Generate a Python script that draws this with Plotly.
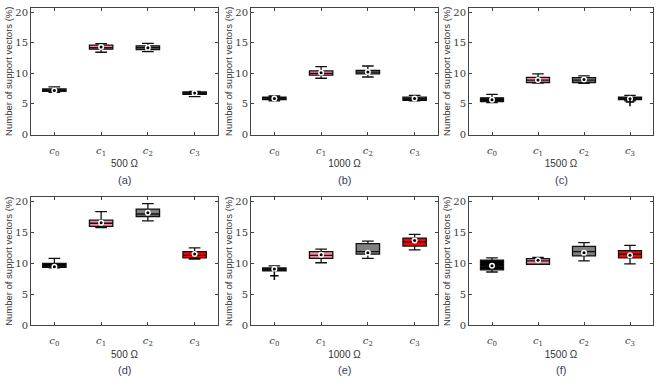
import plotly.graph_objects as go

categories = ["<i>c</i><sub>0</sub>", "<i>c</i><sub>1</sub>", "<i>c</i><sub>2</sub>", "<i>c</i><sub>3</sub>"]
box_colors = ["#000000", "#f28ba0", "#808080", "#ff0000"]
resistances = ["500 Ω", "1000 Ω", "1500 Ω", "500 Ω", "1000 Ω", "1500 Ω"]
panel_labels = ["(a)", "(b)", "(c)", "(d)", "(e)", "(f)"]

# per panel: lists over c0..c3
q1_a = [7.05, 13.95, 13.9, 6.55];  med_a = [7.25, 14.2, 14.2, 6.75];  q3_a = [7.45, 14.6, 14.5, 6.95]
lo_a = [6.9, 13.45, 13.55, 6.2];   hi_a = [7.8, 14.85, 14.9, 7.05];   mean_a = [7.2, 14.3, 14.2, 6.8]

q1_b = [5.7, 9.7, 9.9, 5.6];       med_b = [5.9, 10.0, 10.2, 5.85];  q3_b = [6.1, 10.4, 10.5, 6.1]
lo_b = [5.5, 9.2, 9.4, 5.5];       hi_b = [6.3, 11.1, 11.2, 6.4];     mean_b = [5.9, 10.1, 10.2, 5.9]

q1_c = [5.4, 8.5, 8.5, 5.7];       med_c = [5.75, 8.9, 8.9, 5.9];    q3_c = [6.0, 9.35, 9.3, 6.1]
lo_c = [5.2, 8.4, 8.35, 5.5];      hi_c = [6.55, 9.9, 9.6, 6.4];      mean_c = [5.7, 8.9, 9.0, 5.85]

q1_d = [9.35, 16.0, 17.6, 10.9];   med_d = [9.6, 16.5, 18.0, 11.3];  q3_d = [10.0, 17.0, 18.8, 11.9]
lo_d = [9.25, 15.8, 16.9, 10.7];   hi_d = [10.8, 18.4, 19.7, 12.5];   mean_d = [9.45, 16.6, 18.2, 11.5]

q1_e = [8.8, 10.8, 11.5, 12.8];    med_e = [9.0, 11.3, 11.9, 13.5];  q3_e = [9.25, 11.9, 13.2, 14.1]
lo_e = [8.8, 10.1, 10.8, 12.2];    hi_e = [9.6, 12.3, 13.6, 14.7];    mean_e = [9.1, 11.4, 11.7, 13.7]

q1_f = [8.95, 9.85, 11.2, 10.9];   med_f = [9.5, 10.4, 11.9, 11.5];  q3_f = [10.5, 10.75, 12.75, 12.05]
lo_f = [8.6, 9.85, 10.4, 9.9];     hi_f = [10.9, 10.95, 13.35, 12.9]; mean_f = [9.6, 10.5, 11.7, 11.3]

# outliers: (panel index, category index, value)
outlier_panel = [2, 4]
outlier_cat = [3, 0]
outlier_val = [5.3, 8.0]

panels = [
    (q1_a, med_a, q3_a, lo_a, hi_a, mean_a),
    (q1_b, med_b, q3_b, lo_b, hi_b, mean_b),
    (q1_c, med_c, q3_c, lo_c, hi_c, mean_c),
    (q1_d, med_d, q3_d, lo_d, hi_d, mean_d),
    (q1_e, med_e, q3_e, lo_e, hi_e, mean_e),
    (q1_f, med_f, q3_f, lo_f, hi_f, mean_f),
]

W, H = 665, 386
xpix = [(31, 218), (251, 438), (469, 653)]
ypix = [(7, 136), (200, 330)]

fig = go.Figure()
layout = dict(width=W, height=H, margin=dict(l=0, r=0, t=0, b=0),
              paper_bgcolor="white", plot_bgcolor="white", showlegend=False)
annotations = []
xs = [1, 2, 3, 4]

for p, (q1, med, q3, lo, hi, mean) in enumerate(panels):
    r, c = divmod(p, 3)
    n = p + 1
    xa = "x" if n == 1 else f"x{n}"
    ya = "y" if n == 1 else f"y{n}"
    for i in range(4):
        fig.add_trace(go.Box(
            x=[xs[i]], q1=[q1[i]], median=[med[i]], q3=[q3[i]],
            lowerfence=[lo[i]], upperfence=[hi[i]],
            width=0.5, whiskerwidth=0.5, fillcolor=box_colors[i],
            line=dict(color="#111111", width=1.3), boxpoints=False,
            xaxis=xa, yaxis=ya, hoverinfo="skip"))
    fig.add_trace(go.Scatter(x=xs, y=mean, mode="markers", xaxis=xa, yaxis=ya,
                             marker=dict(color="white", size=6, line=dict(width=0))))
    fig.add_trace(go.Scatter(x=xs, y=mean, mode="markers", xaxis=xa, yaxis=ya,
                             marker=dict(color="black", size=3, line=dict(width=0))))
    ox = [xs[outlier_cat[k]] for k in range(len(outlier_val)) if outlier_panel[k] == p]
    oy = [outlier_val[k] for k in range(len(outlier_val)) if outlier_panel[k] == p]
    if ox:
        fig.add_trace(go.Scatter(x=ox, y=oy, mode="markers", xaxis=xa, yaxis=ya,
                                 marker=dict(symbol="cross-thin", size=6,
                                             line=dict(color="black", width=1.5))))
    x0, x1 = xpix[c]
    y0, y1 = ypix[r]
    axis_common = dict(showline=True, linecolor="#444444", linewidth=1, mirror="ticks",
                       ticks="inside", ticklen=3, tickcolor="#444444", showgrid=False,
                       zeroline=False,
                       tickfont=dict(family="DejaVu Serif", size=10, color="#3a3a3a"))
    layout["xaxis" if n == 1 else f"xaxis{n}"] = dict(
        domain=[x0 / W, x1 / W], anchor=ya, range=[0.5, 4.5],
        tickvals=xs, ticktext=categories, ticklabelstandoff=6,
        title=dict(text=resistances[p], standoff=3,
                   font=dict(family="Liberation Sans", size=10, color="#333333")),
        **axis_common)
    layout["yaxis" if n == 1 else f"yaxis{n}"] = dict(
        domain=[1 - y1 / H, 1 - y0 / H], anchor=xa, range=[0, 20.7],
        tickvals=[0, 5, 10, 15, 20],
        title=dict(text="Number of support vectors (%)", standoff=0,
                   font=dict(family="Liberation Sans", size=9.5, color="#333333")),
        **axis_common)
    annotations.append(dict(text=panel_labels[p], x=(x0 + x1) / 2 / W,
                            y=1 - (y1 + 46) / H, xref="paper", yref="paper",
                            showarrow=False, xanchor="center", yanchor="middle",
                            font=dict(family="Liberation Sans", size=11, color="#3a3a66")))

layout["annotations"] = annotations
fig.update_layout(**layout)
fig.write_html("out.html", config={"displayModeBar": False},
               post_script="document.body.style.margin='0';document.body.style.overflow='hidden';")
